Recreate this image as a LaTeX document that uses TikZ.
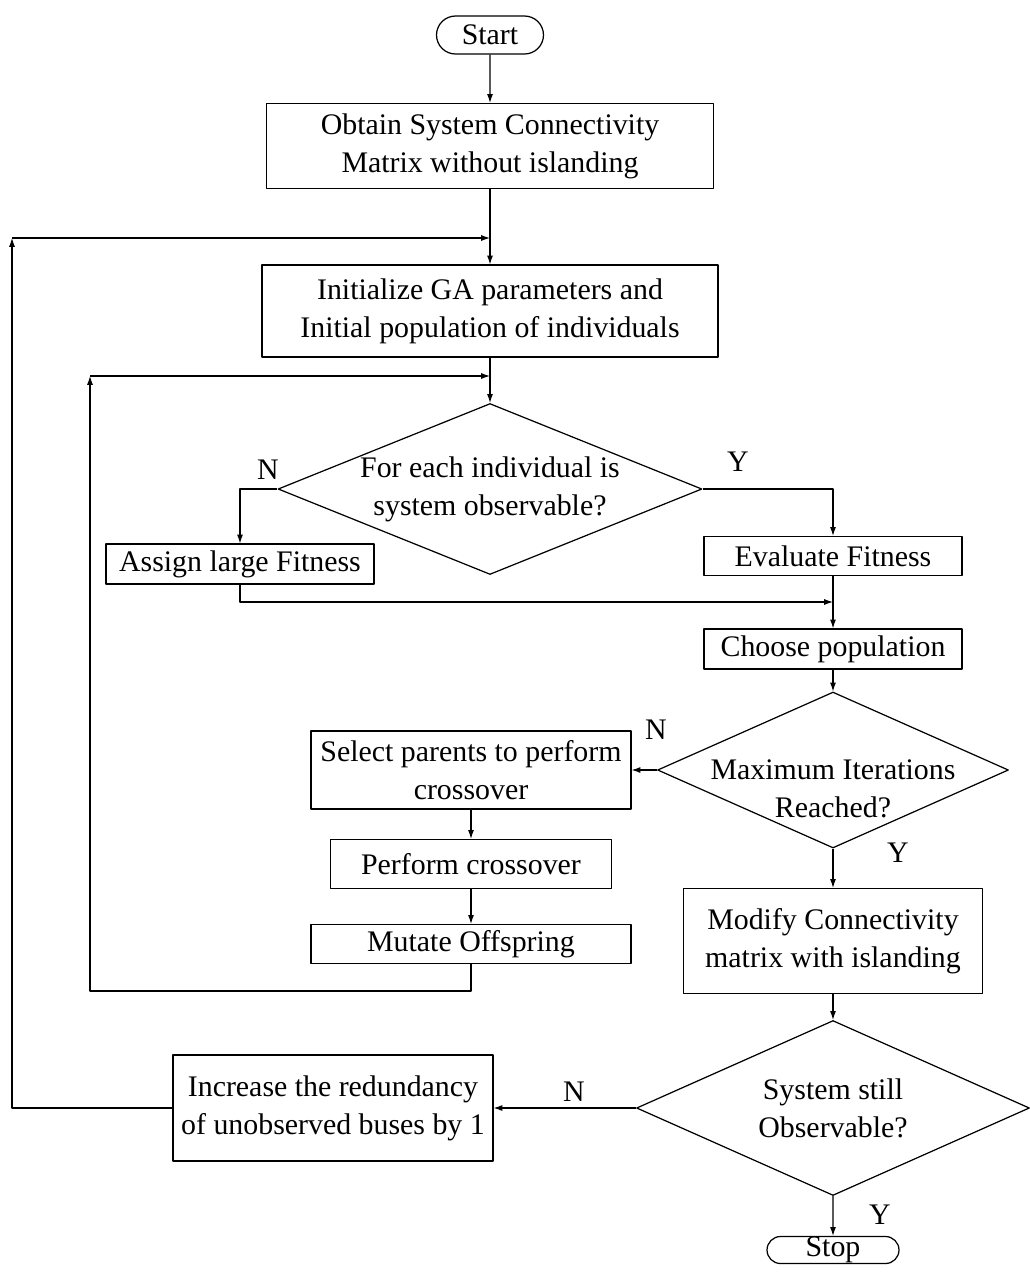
\documentclass[tikz,border=0pt]{standalone}
\usepackage{fontspec}
\setmainfont{Liberation Serif}
\usepackage{tikz}
\usetikzlibrary{arrows.meta,shapes.geometric,shapes.misc}

\begin{document}
\begin{tikzpicture}[x=0.02cm,y=-0.02cm,line join=round,
    font=\fontsize{17}{21.6}\selectfont,
    every node/.style={inner sep=0pt},
    box/.style={draw,line width=0.7pt,align=center},
    term/.style={draw,line width=0.7pt,rounded rectangle},
    decision/.style={draw,line width=0.7pt,diamond},
    arr/.style={line width=0.6pt,-{Latex[length=5pt,width=3.4pt]}}]
  \useasboundingbox (0,0) rectangle (1029,1279);
  % terminals
  \node[term,minimum width=2.14cm,minimum height=0.76cm] (start) at (490,35) {Start};
  \node[term,minimum width=2.64cm,minimum height=0.54cm] (stop) at (833,1250) {Stop};
  % main column
  \node[box,minimum width=8.94cm,minimum height=1.7cm] (obtain) at (490,146) {Obtain System Connectivity\\Matrix without islanding};
  \node[box,minimum width=9.12cm,minimum height=1.84cm] (init) at (490,311) {Initialize GA parameters and\\Initial population of individuals};
  \node[decision,minimum width=8.48cm,minimum height=3.42cm] (dia1) at (490,489) {};
  \node[align=center] (dia1txt) at (dia1) {For each individual is\\system observable?};
  \node[box,minimum width=5.36cm,minimum height=0.8cm] (assign) at (240,564) {Assign large Fitness};
  % right column
  \node[box,minimum width=5.16cm,minimum height=0.78cm] (eval) at (833,556) {Evaluate Fitness};
  \node[box,minimum width=5.16cm,minimum height=0.8cm] (choose) at (833,649) {Choose population};
  \node[decision,minimum width=7.02cm,minimum height=3.12cm] (dia2) at (833,770) {};
  \node[align=center] (dia2txt) at (833,789) {Maximum Iterations\\Reached?};
  \node[box,minimum width=5.98cm,minimum height=2.1cm] (modify) at (833,941) {Modify Connectivity\\matrix with islanding};
  \node[decision,minimum width=7.86cm,minimum height=3.5cm] (dia3) at (833,1108) {};
  \node[align=center] (dia3txt) at (dia3) {System still\\Observable?};
  % GA loop column
  \node[box,minimum width=6.4cm,minimum height=1.56cm] (select) at (471,770) {Select parents to perform\\crossover};
  \node[box,minimum width=5.62cm,minimum height=0.98cm] (perform) at (471,864) {Perform crossover};
  \node[box,minimum width=6.4cm,minimum height=0.78cm] (mutate) at (471,944) {Mutate Offspring};
  \node[box,minimum width=6.4cm,minimum height=2.12cm] (incr) at (333,1108) {Increase the redundancy\\of unobserved buses by 1};
  % branch labels
  \foreach \x/\y/\lab [count=\i] in {268/470/N, 738/462/Y, 656/730/N, 898/853/Y, 574/1092/N, 880/1215/Y}
    \node (lab\i) at (\x,\y) {\lab};
  % straight flow
  \foreach \a/\b in {start/obtain, obtain/init, init/dia1, eval/choose, choose/dia2, dia2/modify,
        modify/dia3, dia3/stop, select/perform, perform/mutate}
    \draw[arr] (\a) -- (\b);
  % branches
  \draw[arr] (dia1.west) -| (assign.north);
  \draw[arr] (dia1.east) -| (eval.north);
  \coordinate (join3) at (833,602);
  \draw[arr] (assign.south) |- (join3);
  \draw[arr] (dia2.west) -- (select.east);
  \draw[arr] (dia3.west) -- (incr.east);
  % outer loop
  \coordinate (corner1) at (12,238);
  \coordinate (join1) at (490,238);
  \draw[arr] (incr.west) -| (corner1);
  \draw[arr] (corner1) -- (join1);
  % inner loop
  \coordinate (bend2) at (90,991);
  \coordinate (corner2) at (90,376);
  \coordinate (join2) at (490,376);
  \draw[arr] (mutate.south) |- (bend2) -- (corner2);
  \draw[arr] (corner2) -- (join2);
\end{tikzpicture}
\end{document}
